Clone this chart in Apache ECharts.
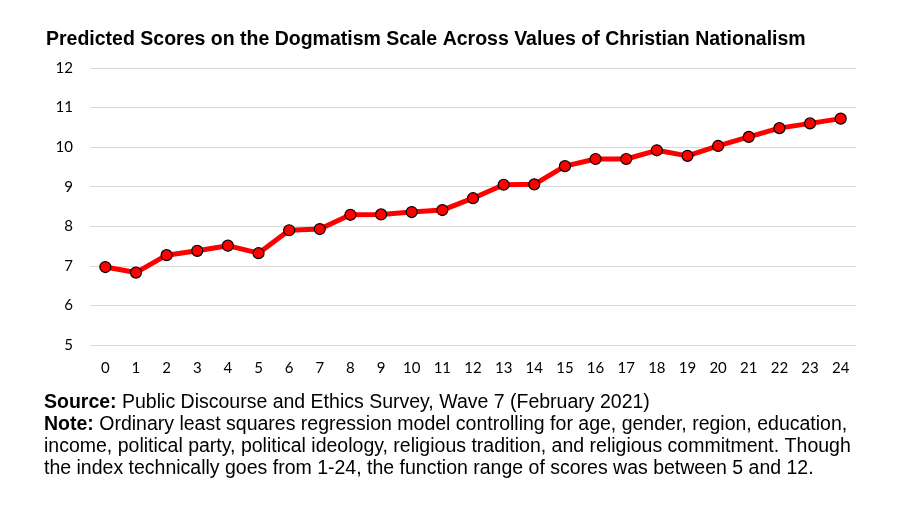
<!DOCTYPE html>
<html><head><meta charset="utf-8">
<script src="https://cdn.jsdelivr.net/npm/echarts@6/dist/echarts.min.js"></script>
<style>html,body{margin:0;padding:0;background:#fff}#c{width:900px;height:506px}</style>
</head><body><div id="c"></div>
<script>
const titleText = 'Predicted Scores on the Dogmatism Scale Across Values of Christian Nationalism';
const categories = ['0','1','2','3','4','5','6','7','8','9','10','11','12','13','14','15','16','17','18','19','20','21','22','23','24'];
const scores = [6.97,6.83,7.27,7.38,7.51,7.32,7.90,7.93,8.29,8.30,8.36,8.41,8.71,9.05,9.06,9.52,9.70,9.70,9.92,9.78,10.03,10.26,10.48,10.60,10.72];
const yMin = 5, yMax = 12, yStep = 1;
const noteLines = [
  ['Source:', ' Public Discourse and Ethics Survey, Wave 7 (February 2021)'],
  ['Note:', ' Ordinary least squares regression model controlling for age, gender, region, education,'],
  ['', 'income, political party, political ideology, religious tradition, and religious commitment. Though'],
  ['', 'the index technically goes from 1-24, the function range of scores was between 5 and 12.']
];
const font = '"Liberation Sans", Arial, sans-serif';
const tickFont = 'Lato, "Open Sans", sans-serif';
const chart = echarts.init(document.getElementById('c'));
const graphics = noteLines.map((l, i) => ({
  type: 'text', left: 44, top: 393 + i * 21.8,
  style: {
    text: (l[0] ? '{b|' + l[0] + '}' : '') + '{n|' + l[1] + '}',
    rich: {
      b: {fontFamily: font, fontSize: 19.5, fontWeight: 'bold', fill: '#000'},
      n: {fontFamily: font, fontSize: 19.5, fill: '#000'}
    }
  }
}));
chart.setOption({
  animation: false,
  title: {text: titleText, left: 41, top: 25, textStyle: {fontFamily: font, fontSize: 19.5, fontWeight: 'bold', color: '#000'}},
  grid: {left: 90, right: 44, top: 68, bottom: 161},
  xAxis: {type: 'category', data: categories, boundaryGap: true,
    axisLine: {show: false}, axisTick: {show: false},
    axisLabel: {fontFamily: tickFont, fontSize: 15, color: '#000', margin: 16}},
  yAxis: {type: 'value', min: yMin, max: yMax, interval: yStep,
    axisLine: {show: false}, axisTick: {show: false},
    splitLine: {lineStyle: {color: '#d9d9d9', width: 1}},
    axisLabel: {fontFamily: tickFont, fontSize: 15, color: '#000', margin: 17}},
  series: [{type: 'line', data: scores, symbol: 'circle', symbolSize: 11,
    lineStyle: {color: '#ff0000', width: 5},
    itemStyle: {color: '#ff0000', borderColor: '#000', borderWidth: 1.2}}],
  graphic: graphics
});
</script></body></html>
